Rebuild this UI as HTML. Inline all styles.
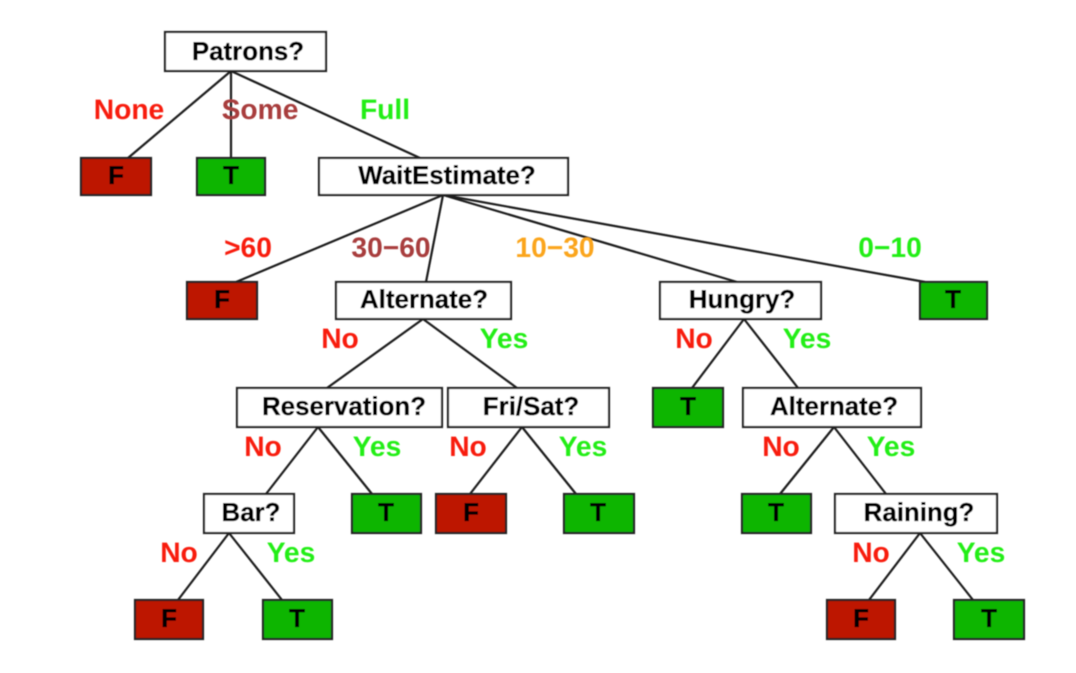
<!DOCTYPE html>
<html>
<head>
<meta charset="utf-8">
<title>Restaurant decision tree</title>
<style>
html,body{margin:0;padding:0;background:#fff;width:1076px;height:673px;overflow:hidden}
svg{display:block}
text{font-family:"Liberation Sans",Arial,sans-serif;font-weight:bold;text-rendering:geometricPrecision}
.n{font-size:25.9px;fill:#000;stroke:#000;stroke-width:.35px;text-anchor:middle}
.e{font-size:28.2px;text-anchor:middle}
.r{fill:#f81c0c}.g{fill:#22ee12}.b{fill:#a83c3c}.o{fill:#fba51f}
.box{stroke:#222;stroke-width:2.2;fill:#fff}
.F{fill:#bd1300}.T{fill:#10b505}
line{stroke:#1c1c1c;stroke-width:2.2}
</style>
</head>
<body>
<svg xmlns="http://www.w3.org/2000/svg" width="1076" height="673" viewBox="0 0 1076 673">
<defs><filter id="soft" filterUnits="userSpaceOnUse" x="0" y="0" width="1076" height="673"><feGaussianBlur stdDeviation="0.5"/></filter></defs>
<rect width="1076" height="673" fill="#fff"/>
<g filter="url(#soft)">
<g>
<line x1="231" y1="71" x2="128" y2="158"/>
<line x1="231" y1="71" x2="231" y2="158"/>
<line x1="231" y1="71" x2="420" y2="158"/>
<line x1="443" y1="195" x2="236" y2="282"/>
<line x1="443" y1="195" x2="426" y2="282"/>
<line x1="443" y1="195" x2="737" y2="282"/>
<line x1="443" y1="195" x2="925" y2="282"/>
<line x1="423" y1="319" x2="327" y2="388"/>
<line x1="423" y1="319" x2="517" y2="388"/>
<line x1="744" y1="319" x2="692" y2="388"/>
<line x1="744" y1="319" x2="798" y2="388"/>
<line x1="318" y1="427" x2="266" y2="494"/>
<line x1="318" y1="427" x2="372" y2="494"/>
<line x1="522" y1="427" x2="470" y2="494"/>
<line x1="522" y1="427" x2="576" y2="494"/>
<line x1="834" y1="427" x2="780" y2="494"/>
<line x1="834" y1="427" x2="886" y2="494"/>
<line x1="229" y1="533" x2="178" y2="600"/>
<line x1="229" y1="533" x2="282" y2="600"/>
<line x1="920" y1="533" x2="869" y2="600"/>
<line x1="920" y1="533" x2="973" y2="600"/>
</g>

<g><rect class="box" x="165" y="32" width="161" height="39"/><text class="n" x="248" y="60">Patrons?</text></g>
<g><rect class="box" x="319" y="158" width="249" height="37"/><text class="n" x="447" y="184">WaitEstimate?</text></g>
<g><rect class="box" x="336" y="282" width="175" height="37"/><text class="n" x="424" y="308">Alternate?</text></g>
<g><rect class="box" x="660" y="282" width="161" height="37"/><text class="n" x="742" y="308">Hungry?</text></g>
<g><rect class="box" x="237" y="388" width="205" height="39"/><text class="n" x="344" y="415">Reservation?</text></g>
<g><rect class="box" x="448" y="388" width="161" height="39"/><text class="n" x="531" y="415">Fri/Sat?</text></g>
<g><rect class="box" x="743" y="388" width="178" height="39"/><text class="n" x="834" y="415">Alternate?</text></g>
<g><rect class="box" x="204" y="494" width="90" height="39"/><text class="n" x="251" y="521">Bar?</text></g>
<g><rect class="box" x="835" y="494" width="162" height="39"/><text class="n" x="919" y="521">Raining?</text></g>

<g><rect class="box F" x="81" y="158" width="70" height="37"/><text class="n" x="116" y="184">F</text></g>
<g><rect class="box T" x="197" y="158" width="68" height="37"/><text class="n" x="231" y="184">T</text></g>
<g><rect class="box F" x="187" y="282" width="70" height="37"/><text class="n" x="222" y="308">F</text></g>
<g><rect class="box T" x="920" y="282" width="67" height="37"/><text class="n" x="953" y="308">T</text></g>
<g><rect class="box T" x="653" y="388" width="70" height="39"/><text class="n" x="688" y="415">T</text></g>
<g><rect class="box T" x="352" y="494" width="69" height="39"/><text class="n" x="386" y="521">T</text></g>
<g><rect class="box F" x="436" y="494" width="70" height="39"/><text class="n" x="471" y="521">F</text></g>
<g><rect class="box T" x="564" y="494" width="70" height="39"/><text class="n" x="598" y="521">T</text></g>
<g><rect class="box T" x="742" y="494" width="69" height="39"/><text class="n" x="776" y="521">T</text></g>
<g><rect class="box F" x="135" y="600" width="68" height="39"/><text class="n" x="169" y="627">F</text></g>
<g><rect class="box T" x="263" y="600" width="69" height="39"/><text class="n" x="297" y="627">T</text></g>
<g><rect class="box F" x="827" y="600" width="68" height="39"/><text class="n" x="861" y="627">F</text></g>
<g><rect class="box T" x="954" y="600" width="70" height="39"/><text class="n" x="989" y="627">T</text></g>

<text class="e r" x="129" y="119">None</text>
<text class="e b" x="260" y="119">Some</text>
<text class="e g" x="385" y="119">Full</text>
<text class="e r" x="248" y="257">&gt;60</text>
<text class="e b" x="391" y="257">30−60</text>
<text class="e o" x="555" y="257">10−30</text>
<text class="e g" x="890" y="257">0−10</text>
<text class="e r" x="340" y="348">No</text>
<text class="e g" x="504" y="348">Yes</text>
<text class="e r" x="694" y="348">No</text>
<text class="e g" x="807" y="348">Yes</text>
<text class="e r" x="263" y="456">No</text>
<text class="e g" x="377" y="456">Yes</text>
<text class="e r" x="468" y="456">No</text>
<text class="e g" x="583" y="456">Yes</text>
<text class="e r" x="781" y="456">No</text>
<text class="e g" x="891" y="456">Yes</text>
<text class="e r" x="179" y="562">No</text>
<text class="e g" x="291" y="562">Yes</text>
<text class="e r" x="871" y="562">No</text>
<text class="e g" x="981" y="562">Yes</text>
</g>
</svg>
</body>
</html>
